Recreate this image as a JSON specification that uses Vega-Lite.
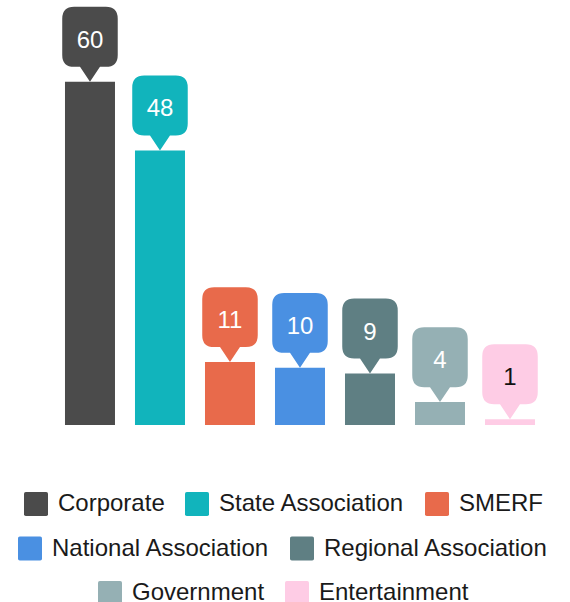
{
  "$schema": "https://vega.github.io/schema/vega-lite/v6.json",
  "width": 520,
  "height": 425,
  "autosize": {"type": "none"},
  "padding": {"left": 23, "top": 0, "right": 27, "bottom": 177},
  "background": "white",
  "data": {
    "values": [
      {"type": "Corporate", "count": 60},
      {"type": "State Association", "count": 48},
      {"type": "SMERF", "count": 11},
      {"type": "National Association", "count": 10},
      {"type": "Regional Association", "count": 9},
      {"type": "Government", "count": 4},
      {"type": "Entertainment", "count": 1}
    ]
  },
  "encoding": {
    "x": {
      "field": "type",
      "type": "nominal",
      "scale": {
        "domain": ["Corporate", "State Association", "SMERF", "National Association", "Regional Association", "Government", "Entertainment"],
        "paddingInner": 0.2857,
        "paddingOuter": 0.357,
        "align": 0.84
      },
      "axis": null
    },
    "y": {
      "field": "count",
      "type": "quantitative",
      "scale": {"domain": [0, 74.3], "nice": false},
      "axis": null
    }
  },
  "layer": [
    {
      "transform": [{"filter": {"field": "type", "oneOf": ["Corporate", "State Association", "SMERF"]}}],
      "encoding": {
        "color": {
          "field": "type",
          "type": "nominal",
          "scale": {"domain": ["Corporate", "State Association", "SMERF"], "range": ["#4b4b4b", "#11b4bc", "#e86a4b"]},
          "legend": {"symbolType": "M-1,-0.85Q-1,-1 -0.85,-1L0.85,-1Q1,-1 1,-0.85L1,0.85Q1,1 0.85,1L-0.85,1Q-1,1 -1,0.85Z"}
        }
      },
      "layer": [
        {"mark": {"type": "bar"}},
        {"mark": {"type": "point", "shape": "M0,0L-0.36,-0.54L-0.57,-0.54Q-1,-0.54 -1,-0.97L-1,-2.27Q-1,-2.7 -0.57,-2.7L0.57,-2.7Q1,-2.7 1,-2.27L1,-0.97Q1,-0.54 0.57,-0.54L0.36,-0.54Z", "size": 3080, "filled": true, "opacity": 1, "strokeWidth": 0}}
      ]
    },
    {
      "transform": [{"filter": {"field": "type", "oneOf": ["National Association", "Regional Association"]}}],
      "encoding": {
        "color": {
          "field": "type",
          "type": "nominal",
          "scale": {"domain": ["National Association", "Regional Association"], "range": ["#4a90e2", "#5f7f83"]},
          "legend": {"symbolType": "M-1,-0.85Q-1,-1 -0.85,-1L0.85,-1Q1,-1 1,-0.85L1,0.85Q1,1 0.85,1L-0.85,1Q-1,1 -1,0.85Z"}
        }
      },
      "layer": [
        {"mark": {"type": "bar"}},
        {"mark": {"type": "point", "shape": "M0,0L-0.36,-0.54L-0.57,-0.54Q-1,-0.54 -1,-0.97L-1,-2.27Q-1,-2.7 -0.57,-2.7L0.57,-2.7Q1,-2.7 1,-2.27L1,-0.97Q1,-0.54 0.57,-0.54L0.36,-0.54Z", "size": 3080, "filled": true, "opacity": 1, "strokeWidth": 0}}
      ]
    },
    {
      "transform": [{"filter": {"field": "type", "oneOf": ["Government", "Entertainment"]}}],
      "encoding": {
        "color": {
          "field": "type",
          "type": "nominal",
          "scale": {"domain": ["Government", "Entertainment"], "range": ["#95b0b4", "#fecce5"]},
          "legend": {"symbolType": "M-1,-0.85Q-1,-1 -0.85,-1L0.85,-1Q1,-1 1,-0.85L1,0.85Q1,1 0.85,1L-0.85,1Q-1,1 -1,0.85Z"}
        }
      },
      "layer": [
        {"mark": {"type": "bar"}},
        {"mark": {"type": "point", "shape": "M0,0L-0.36,-0.54L-0.57,-0.54Q-1,-0.54 -1,-0.97L-1,-2.27Q-1,-2.7 -0.57,-2.7L0.57,-2.7Q1,-2.7 1,-2.27L1,-0.97Q1,-0.54 0.57,-0.54L0.36,-0.54Z", "size": 3080, "filled": true, "opacity": 1, "strokeWidth": 0}}
      ]
    },
    {
      "mark": {"type": "text", "dy": -34, "fontSize": 24, "font": "Liberation Sans", "baseline": "alphabetic", "align": "center"},
      "encoding": {
        "text": {"field": "count", "type": "quantitative"},
        "color": {"condition": {"test": "datum.type === 'Entertainment'", "value": "#111111"}, "value": "#ffffff"}
      }
    }
  ],
  "resolve": {"scale": {"color": "independent"}},
  "config": {
    "view": {"stroke": null},
    "legend": {
      "orient": "bottom",
      "direction": "horizontal",
      "title": null,
      "labelFont": "Liberation Sans",
      "labelFontSize": 24,
      "labelColor": "#1a1a1a",
      "labelLimit": 400,
      "labelOffset": 10,
      "symbolSize": 576,
      "symbolStrokeWidth": 0,
      "symbolOpacity": 1,
      "columnPadding": 20,
      "padding": 0,
      "offset": 66.5,
      "layout": {"bottom": {"anchor": "middle", "direction": "vertical", "margin": 20.5, "center": true}}
    }
  }
}
